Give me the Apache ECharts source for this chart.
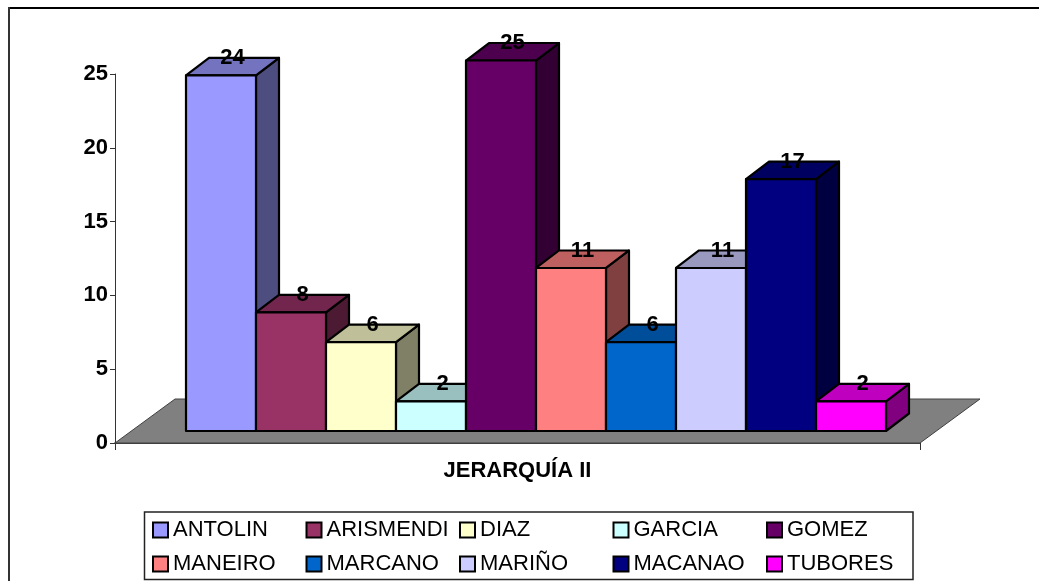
<!DOCTYPE html>
<html>
<head>
<meta charset="utf-8">
<title>JERARQUÍA II</title>
<script src="https://cdn.jsdelivr.net/npm/echarts@6/dist/echarts.min.js"></script>
<style>
html, body { margin: 0; padding: 0; background: #fff; }
#chart { width: 1039px; height: 581px; }
</style>
</head>
<body>
<div id="chart"></div>
<script>
const categories = ['JERARQUÍA II']
const barNames = ['ANTOLIN', 'ARISMENDI', 'DIAZ', 'GARCIA', 'GOMEZ', 'MANEIRO', 'MARCANO', 'MARIÑO', 'MACANAO', 'TUBORES']
const barValues = [24, 8, 6, 2, 25, 11, 6, 11, 17, 2]
const barColors = ['#9999FF', '#993366', '#FFFFCC', '#CCFFFF', '#660066', '#FF8080', '#0066CC', '#CCCCFF', '#000080', '#FF00FF']
const yTicks = { min: 0, max: 25, interval: 5 }

// pseudo 3d look of the old spreadsheet chart
const barW = 70, barShiftX = 18.5, baseLift = 12
const depthX = 23, depthY = 17.5
const floorX = 60, floorY = 44
const stretch = 1.004

function shade(hex, k) {
  const n = parseInt(hex.slice(1), 16)
  const c = [n >> 16, (n >> 8) & 255, n & 255].map(v => Math.round(v * k))
  return `rgb(${c.join(',')})`
}

function renderFloor(params, api) {
  const g = params.coordSys
  const b = g.y + g.height
  return {
    type: 'polygon',
    shape: { points: [[g.x, b], [g.x + floorX, b - floorY], [g.x + g.width + floorX, b - floorY], [g.x + g.width, b]] },
    style: { fill: '#808080', stroke: '#404040', lineWidth: 1 },
    silent: true
  }
}

function barRender(idx) {
  return function (params, api) {
    const color = barColors[idx]
    const zero = api.coord([0, 0])
    const top = api.coord([0, api.value(1)])
    const x0 = zero[0] - barW * barNames.length / 2 + barShiftX + idx * barW
    const x1 = x0 + barW
    const yb = zero[1] - baseLift
    const yt = yb - (zero[1] - top[1]) * stretch
    const line = { stroke: '#000', lineWidth: 2.2, lineJoin: 'round' }
    return {
      type: 'group',
      children: [
        { type: 'polygon', shape: { points: [[x1, yb], [x1 + depthX, yb - depthY], [x1 + depthX, yt - depthY], [x1, yt]] }, style: { fill: shade(color, 0.5), ...line } },
        { type: 'polygon', shape: { points: [[x0, yt], [x0 + depthX, yt - depthY], [x1 + depthX, yt - depthY], [x1, yt]] }, style: { fill: shade(color, 0.75), ...line } },
        { type: 'rect', shape: { x: x0, y: yt, width: barW, height: yb - yt }, style: { fill: color, ...line } },
        { type: 'text', style: { text: String(api.value(1)), x: (x0 + x1) / 2 + depthX / 2, y: yt - depthY, align: 'center', verticalAlign: 'middle', fill: '#000', font: 'bold 22px "Liberation Sans"' } }
      ]
    }
  }
}

const barSeries = barNames.map((name, i) => ({
  type: 'custom',
  name,
  coordinateSystem: 'cartesian2d',
  renderItem: barRender(i),
  data: [[0, barValues[i]]],
  itemStyle: { color: barColors[i], borderColor: '#000', borderWidth: 2 },
  clip: false,
  z: 3 + i
}))

const chart = echarts.init(document.getElementById('chart'), null, { renderer: 'canvas' })
chart.setOption({
  animation: false,
  textStyle: { fontFamily: '"Liberation Sans", Arial, sans-serif' },
  graphic: [
    { type: 'line', shape: { x1: 9, y1: 8, x2: 1039, y2: 8 }, style: { stroke: '#000', lineWidth: 2 }, silent: true },
    { type: 'line', shape: { x1: 9, y1: 7, x2: 9, y2: 581 }, style: { stroke: '#333', lineWidth: 2 }, silent: true },
    { type: 'rect', shape: { x: 144.5, y: 512, width: 768.5, height: 67.5 }, style: { fill: 'none', stroke: '#222', lineWidth: 1.5 }, silent: true }
  ],
  grid: { left: 115, top: 74, width: 805, height: 369 },
  xAxis: {
    type: 'category',
    data: categories,
    axisLine: { lineStyle: { color: '#000', width: 1.5 } },
    axisTick: { show: true, length: 7, lineStyle: { color: '#333' } },
    axisLabel: { color: '#000', fontSize: 22, fontWeight: 'bold', margin: 17 }
  },
  yAxis: {
    type: 'value',
    ...yTicks,
    splitLine: { show: false },
    axisLine: { show: true, lineStyle: { color: '#333', width: 1 } },
    axisTick: { show: true, length: 5, lineStyle: { color: '#333' } },
    axisLabel: { color: '#000', fontSize: 22, fontWeight: 'bold', margin: 7, padding: [2, 0, 0, 0] }
  },
  legend: {
    left: 152,
    top: 513,
    width: 790,
    data: barNames,
    orient: 'horizontal',
    padding: 0,
    itemGap: 0,
    itemWidth: 15,
    itemHeight: 15,
    icon: 'rect',
    textStyle: { color: '#000', fontSize: 22, width: 132.5, lineHeight: 34 }
  },
  series: [
    { type: 'custom', name: 'floor', coordinateSystem: 'cartesian2d', renderItem: renderFloor, data: [[0, 0]], silent: true, z: 1, clip: false },
    ...barSeries
  ]
})
</script>
</body>
</html>
